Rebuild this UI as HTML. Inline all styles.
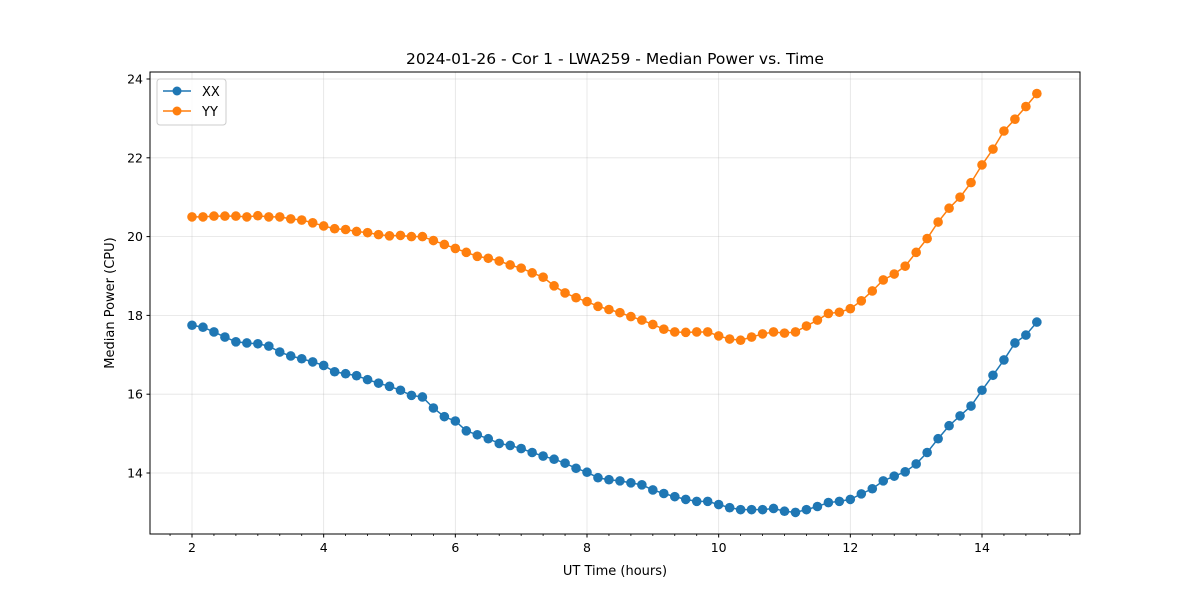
<!DOCTYPE html>
<html><head><meta charset="utf-8"><style>
body{margin:0;background:#fff;font-family:"Liberation Sans","DejaVu Sans",sans-serif}
svg text{font-family:"DejaVu Sans","Liberation Sans",sans-serif;fill:#000}
</style></head><body>
<svg id="chart" width="1200" height="600" xmlns="http://www.w3.org/2000/svg">
<rect width="1200" height="600" fill="#fff"/>
<g id="grid"></g>
<g id="series"></g>
<rect x="150" y="72" width="930" height="462" fill="none" stroke="#000" stroke-width="1"/>
<g id="axes"></g>
<text x="615" y="64" font-size="15.5" text-anchor="middle">2024-01-26 - Cor 1 - LWA259 - Median Power vs. Time</text>
<text x="615" y="575" font-size="13" text-anchor="middle">UT Time (hours)</text>
<text x="0" y="0" font-size="13" text-anchor="middle" transform="translate(114,303) rotate(-90)">Median Power (CPU)</text>
<g>
<rect x="157" y="79" width="69" height="46" rx="3" fill="#fff" fill-opacity="0.8" stroke="#ccc"/>
<g><line x1="163" y1="91" x2="191" y2="91" stroke="#1f77b4" stroke-width="1.5"/><circle cx="177" cy="91" r="4.5" fill="#1f77b4"/><text x="202" y="96" font-size="13">XX</text></g>
<g><line x1="163" y1="111" x2="191" y2="111" stroke="#ff7f0e" stroke-width="1.5"/><circle cx="177" cy="111" r="4.5" fill="#ff7f0e"/><text x="202" y="116" font-size="13">YY</text></g>
</g>
</svg>
<script>
const xxValues=[17.75,17.7,17.58,17.45,17.33,17.3,17.28,17.22,17.07,16.97,
16.9,16.82,16.73,16.57,16.52,16.47,16.37,16.28,16.2,16.1,
15.97,15.93,15.65,15.43,15.32,15.07,14.97,14.87,14.75,14.7,
14.62,14.52,14.43,14.35,14.25,14.12,14.02,13.88,13.83,13.8,
13.75,13.7,13.57,13.48,13.4,13.33,13.28,13.28,13.2,13.12,
13.07,13.07,13.07,13.1,13.03,13.0,13.07,13.15,13.25,13.28,
13.33,13.47,13.6,13.8,13.92,14.03,14.23,14.52,14.87,15.2,
15.45,15.7,16.1,16.48,16.87,17.3,17.5,17.83];
const yyValues=[20.5,20.5,20.52,20.52,20.52,20.5,20.53,20.5,20.5,20.45,
20.42,20.35,20.27,20.2,20.18,20.13,20.1,20.05,20.02,20.03,
20.0,20.0,19.9,19.8,19.7,19.6,19.5,19.45,19.38,19.28,
19.2,19.08,18.97,18.75,18.57,18.45,18.35,18.23,18.15,18.07,
17.97,17.88,17.77,17.65,17.58,17.57,17.58,17.58,17.48,17.4,
17.37,17.45,17.53,17.58,17.55,17.58,17.73,17.88,18.05,18.08,
18.17,18.37,18.62,18.9,19.05,19.25,19.6,19.95,20.37,20.72,
21.0,21.37,21.82,22.22,22.68,22.98,23.3,23.63];
const timeStart=2, timeStepHours=1/6;
const xTicks=[2,4,6,8,10,12,14];
const yTicks=[14,16,18,20,22,24];
const NS='http://www.w3.org/2000/svg';
function X(v){return 192+(v-2)*790/12;}
function Y(v){return 79+(24-v)*39.4;}
function mk(tag,attrs,parent){const e=document.createElementNS(NS,tag);for(const k in attrs)e.setAttribute(k,attrs[k]);parent.appendChild(e);return e;}
const grid=document.getElementById('grid'),axes=document.getElementById('axes'),series=document.getElementById('series');
for(let k=5;k<=46;k++){
 if(k%6===0) continue;
 const t=k/3;
 const tk=mk('line',{x1:X(t),x2:X(t),y1:534,y2:536,stroke:'#000','stroke-width':0.8},axes);
 
 
}
xTicks.forEach(t=>{
 const g=mk('line',{x1:X(t),x2:X(t),y1:72,y2:534,stroke:'#b0b0b0','stroke-opacity':0.35,'stroke-width':0.8},grid);
 
 
 const tk=mk('line',{x1:X(t),x2:X(t),y1:534,y2:537.5,stroke:'#000'},axes);
 
 
 const tx=mk('text',{x:X(t),y:552,'font-size':12.5,'text-anchor':'middle'},axes);tx.textContent=t;
 
 
});
yTicks.forEach(t=>{
 const g=mk('line',{x1:150,x2:1080,y1:Y(t),y2:Y(t),stroke:'#b0b0b0','stroke-opacity':0.35,'stroke-width':0.8},grid);
 
 
 const tk=mk('line',{x1:146.5,x2:150,y1:Y(t),y2:Y(t),stroke:'#000'},axes);
 
 
 const tx=mk('text',{x:143,y:Y(t)+4.5,'font-size':12.5,'text-anchor':'end'},axes);tx.textContent=t;
 
 
});
function draw(vals,color,name){
 const g=mk('g',{},series);
 
 
 const pts=vals.map((v,i)=>X(timeStart+i*timeStepHours).toFixed(2)+','+Y(v).toFixed(2)).join(' ');
 const pl=mk('polyline',{points:pts,fill:'none',stroke:color,'stroke-width':1.5},g);
 
 
 vals.forEach((v,i)=>{
  const c=mk('circle',{cx:X(timeStart+i*timeStepHours),cy:Y(v),r:4.8,fill:color},g);
  
  
 });
}
draw(xxValues,'#1f77b4','series-xx');
draw(yyValues,'#ff7f0e','series-yy');
</script>
</body></html>
